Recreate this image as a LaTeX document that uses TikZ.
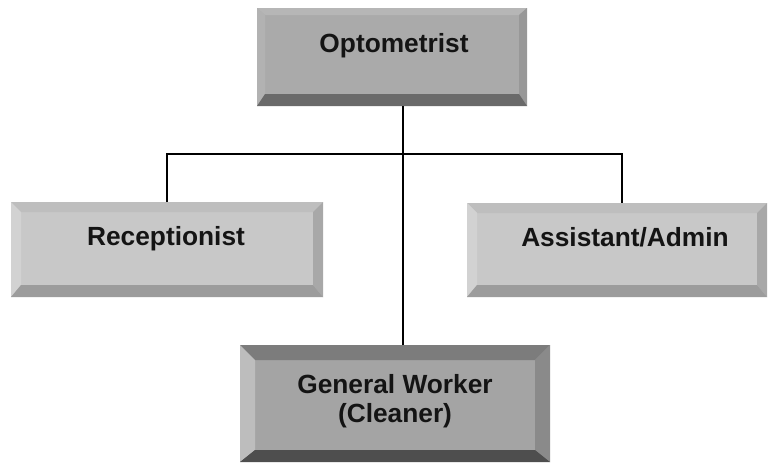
\documentclass[tikz,border=0pt]{standalone}
\usepackage{fontspec}
\setmainfont{Liberation Sans}
\begin{document}
\begin{tikzpicture}[x=1pt,y=-1pt,
  face/.style={rectangle,inner sep=0pt,outer sep=0pt},
  lbl/.style={font=\fontsize{26.3}{30}\selectfont\bfseries,text=black!92,inner sep=0pt,anchor=base},
  conn/.style={line width=1.4pt,black}]
\useasboundingbox (0,0) rectangle (768,464);
\fill[white] (0,0) rectangle (768,464);
\definecolor{oface}{HTML}{AAAAAA}\definecolor{otop}{HTML}{B6B6B6}\definecolor{oleft}{HTML}{B2B2B2}\definecolor{oright}{HTML}{989898}\definecolor{obot}{HTML}{6A6A6A}
\definecolor{rface}{HTML}{C8C8C8}\definecolor{rtop}{HTML}{BEBEBE}\definecolor{rleft}{HTML}{D2D2D2}\definecolor{rright}{HTML}{A8A8A8}\definecolor{rbot}{HTML}{9C9C9C}
\definecolor{gface}{HTML}{A4A4A4}\definecolor{gtop}{HTML}{7C7C7C}\definecolor{gleft}{HTML}{BDBDBD}\definecolor{gright}{HTML}{8A8A8A}\definecolor{gbot}{HTML}{4E4E4E}
\newcommand\bevel[8]{%
 \fill[#5] (#1.north west) -- (#1.north east) -- ([xshift=-#2,yshift=-#3]#1.north east) -- ([xshift=#2,yshift=-#3]#1.north west) -- cycle;
 \fill[#6] (#1.north west) -- ([xshift=#2,yshift=-#3]#1.north west) -- ([xshift=#2,yshift=#4]#1.south west) -- (#1.south west) -- cycle;
 \fill[#7] (#1.north east) -- ([xshift=-#2,yshift=-#3]#1.north east) -- ([xshift=-#2,yshift=#4]#1.south east) -- (#1.south east) -- cycle;
 \fill[#8] (#1.south west) -- ([xshift=#2,yshift=#4]#1.south west) -- ([xshift=-#2,yshift=#4]#1.south east) -- (#1.south east) -- cycle;
}
% boxes
\node[face,fill=oface,minimum width=270pt,minimum height=98pt] (opt) at (392,57) {};
\bevel{opt}{8pt}{7pt}{12pt}{otop}{oleft}{oright}{obot}
\node[face,fill=rface,minimum width=312pt,minimum height=95pt] (rec) at (167,249.5) {};
\bevel{rec}{10pt}{10pt}{12pt}{rtop}{rleft}{rright}{rbot}
\node[face,fill=rface,minimum width=300pt,minimum height=94pt] (asst) at (617,250) {};
\bevel{asst}{10pt}{10pt}{12pt}{rtop}{rleft}{rright}{rbot}
\node[face,fill=gface,minimum width=310pt,minimum height=117pt] (gw) at (395,403.5) {};
\bevel{gw}{15pt}{15pt}{12pt}{gtop}{gleft}{gright}{gbot}
% labels
\node[lbl] (optT) at (394,52) {Optometrist};
\node[lbl] (recT) at (166,245) {Receptionist};
\node[lbl] (asstT) at (625,246) {Assistant/Admin};
\node[lbl] (gwT1) at (395,393) {General Worker};
\node[lbl] (gwT2) at (395,422) {(Cleaner)};
% connectors
\coordinate (trunk) at ([xshift=11pt]opt.south);
\coordinate (barL) at (rec.north |- 0,154);
\coordinate (asstTop) at ([xshift=5pt]asst.north);
\coordinate (barR) at (asstTop |- 0,154);
\draw[conn] (trunk) -- (trunk |- gw.north);
\draw[conn] (rec.north) -- (barL) -- (barR) -- (asstTop);
\end{tikzpicture}
\end{document}
